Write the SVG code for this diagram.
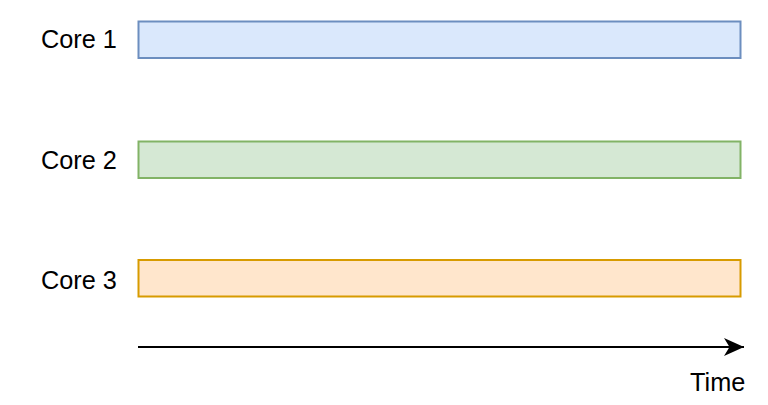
<svg xmlns="http://www.w3.org/2000/svg" width="768" height="405" viewBox="0 0 768 405">
<style>
text{font-family:"Liberation Sans",Arial,sans-serif;font-size:25.3px;fill:#000}
rect{stroke-width:2}
</style>
<defs>
<marker id="ah" markerWidth="24" markerHeight="24" viewBox="0 0 24 24" refX="20" refY="12" orient="auto" markerUnits="userSpaceOnUse">
<path d="M0,3 L20,12 L0,21 L5.5,12 Z" fill="#000"/>
</marker>
</defs>
<rect width="768" height="405" fill="#fff" stroke="none"/>
<g id="core1">
<rect x="138.5" y="21.5" width="602" height="36.5" fill="#dae8fc" stroke="#6c8ebf"/>
<text x="41" y="47.5">Core 1</text>
</g>
<g id="core2">
<rect x="138.5" y="141.5" width="602" height="36.5" fill="#d5e8d4" stroke="#82b366"/>
<text x="41" y="169">Core 2</text>
</g>
<g id="core3">
<rect x="138.5" y="260" width="602" height="36.5" fill="#ffe6cc" stroke="#d79b00"/>
<text x="41" y="289">Core 3</text>
</g>
<g id="connectors">
<line x1="138" y1="347" x2="744" y2="347" stroke="#000" stroke-width="2" marker-end="url(#ah)"/>
</g>
<g id="timelabel">
<text x="690" y="391">Time</text>
</g>
</svg>
